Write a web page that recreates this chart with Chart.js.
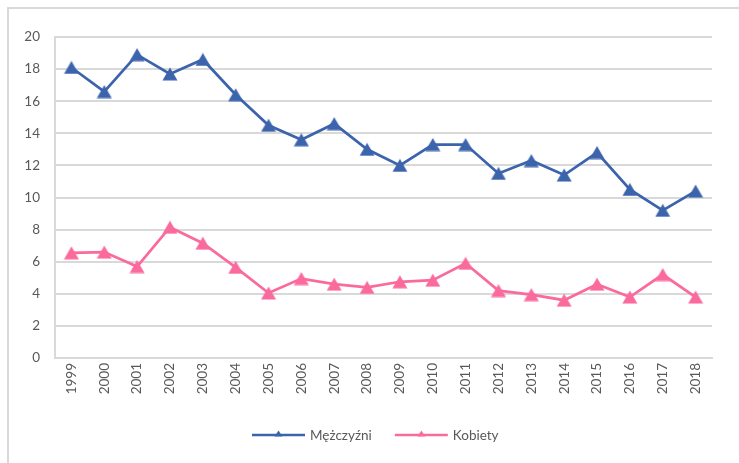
<!DOCTYPE html>
<html>
<head>
<meta charset="utf-8">
<script src="https://cdn.jsdelivr.net/npm/chart.js@4"></script>
<style>
    body { margin: 0; background: #fff; }
    #frame { position: absolute; left: 7px; top: 7px; width: 740px; height: 460px; border-top: 2px solid #d9d9d9; border-left: 2px solid #d9d9d9; }
    #wrap { position: absolute; left: 0; top: 0; width: 739px; height: 463px; }
</style>
</head>
<body>
<div id="frame"></div>
<div id="wrap"><canvas id="chart" width="739" height="463"></canvas></div>
<script>
var years = ["1999", "2000", "2001", "2002", "2003", "2004", "2005", "2006", "2007", "2008",
             "2009", "2010", "2011", "2012", "2013", "2014", "2015", "2016", "2017", "2018"];
var menValues = [18.1, 16.6, 18.9, 17.7, 18.6, 16.4, 14.5, 13.6, 14.6, 13.0,
                 12.0, 13.3, 13.3, 11.5, 12.3, 11.4, 12.8, 10.5, 9.2, 10.4];
var womenValues = [6.55, 6.6, 5.7, 8.15, 7.15, 5.65, 4.05, 4.95, 4.6, 4.4,
                   4.75, 4.85, 5.9, 4.2, 3.95, 3.6, 4.6, 3.8, 5.2, 3.8];
var seriesNames = ["Mężczyźni", "Kobiety"];
var yMin = 0, yMax = 20, yStep = 2;

var blue = "#3c64ad";
var pink = "#fb6a9d";
var textColor = "#595959";
var gridColor = "#d9d9d9";
var fontFamily = "Lato, 'Open Sans', sans-serif";

// triangle marker as a small canvas, centred on its bounding box like Excel does
function makeTriangle(color, w, h) {
    var c = document.createElement("canvas");
    c.width = w;
    c.height = h;
    var g = c.getContext("2d");
    g.fillStyle = color;
    g.beginPath();
    g.moveTo(w / 2, 0.5);
    g.lineTo(w - 0.5, h - 0.5);
    g.lineTo(0.5, h - 0.5);
    g.closePath();
    g.fill();
    return c;
}

var lineLegend = {
    id: "lineLegend",
    afterDraw: function(chart) {
        var ctx = chart.ctx;
        var x = 252;
        var y = 435;
        ctx.save();
        ctx.font = "13.5px " + fontFamily;
        ctx.textBaseline = "middle";
        chart.data.datasets.forEach(function(ds) {
            ctx.strokeStyle = ds.borderColor;
            ctx.lineWidth = 2.5;
            ctx.beginPath();
            ctx.moveTo(x, y);
            ctx.lineTo(x + 53, y);
            ctx.stroke();
            ctx.drawImage(makeTriangle(ds.borderColor, 9, 7), x + 22, y - 5);
            ctx.fillStyle = textColor;
            ctx.fillText(ds.label, x + 58, y + 1);
            x += 58 + ctx.measureText(ds.label).width + 23;
        });
        ctx.restore();
    }
};

var ctx = document.getElementById("chart").getContext("2d");
var chart = new Chart(ctx, {
    type: "line",
    data: {
        labels: years,
        datasets: [{
            label: seriesNames[0],
            data: menValues,
            borderColor: blue,
            backgroundColor: blue,
            borderWidth: 2.75,
            pointStyle: makeTriangle(blue, 16, 14),
            tension: 0
        }, {
            label: seriesNames[1],
            data: womenValues,
            borderColor: pink,
            backgroundColor: pink,
            borderWidth: 2.75,
            pointStyle: makeTriangle(pink, 16, 14),
            tension: 0
        }]
    },
    options: {
        responsive: false,
        animation: false,
        layout: {
            padding: { left: 7, right: 27, top: 37, bottom: 65 }
        },
        plugins: {
            legend: { display: false },
            tooltip: { enabled: false }
        },
        scales: {
            x: {
                offset: true,
                grid: { display: false, drawTicks: false },
                border: { display: true, color: gridColor, width: 2 },
                ticks: {
                    minRotation: 90,
                    maxRotation: 90,
                    padding: 5,
                    color: textColor,
                    font: { family: fontFamily, size: 13.5 }
                },
                afterFit: function(scale) { scale.height = 40; }
            },
            y: {
                min: yMin,
                max: yMax,
                grid: { color: gridColor, lineWidth: 2, drawTicks: false },
                border: { display: true, color: gridColor, width: 2 },
                ticks: {
                    stepSize: yStep,
                    padding: 15,
                    color: textColor,
                    font: { family: fontFamily, size: 13.5 }
                },
                afterFit: function(scale) { scale.width = 48; }
            }
        }
    },
    plugins: [lineLegend]
});
</script>
</body>
</html>
